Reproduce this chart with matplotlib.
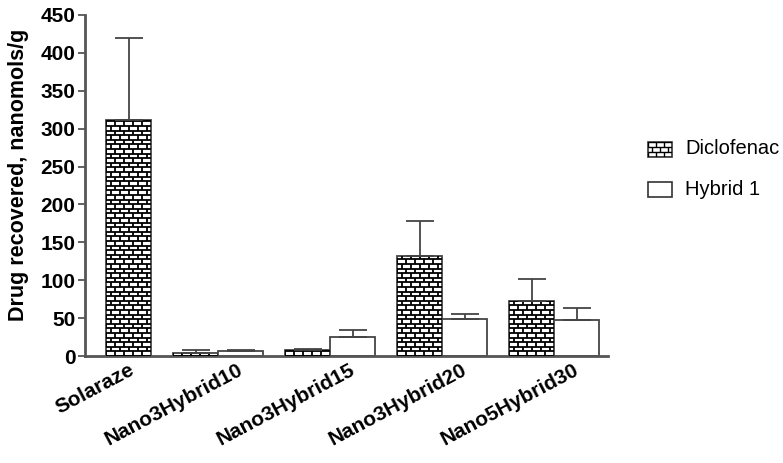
import matplotlib.pyplot as plt
import matplotlib.patches as mpatches
import matplotlib.transforms as mtransforms
import numpy as np
from matplotlib.collections import LineCollection

plt.rcParams['font.family'] = ['Liberation Sans', 'DejaVu Sans']

groups = ['Solaraze', 'Nano3Hybrid10', 'Nano3Hybrid15', 'Nano3Hybrid20', 'Nano5Hybrid30']
diclofenac = [312, 4, 8, 132, 72]
diclofenac_err = [108, 4, 1, 46, 29]
hybrid = [None, 7, 25, 49, 47]
hybrid_err = [None, 1, 9, 6, 17]

W, H = 783, 463
fig = plt.figure(figsize=(W / 100, H / 100), dpi=100)
ax = fig.add_axes([85 / W, (H - 356) / H, (608 - 85) / W, 341 / H])

width = 0.4
xmin, xmax = -0.19, 4.48
ymax = 450
ax.set_xlim(xmin, xmax)
ax.set_ylim(0, ymax)

# pixel -> data scales for the brick pattern
px_x = (xmax - xmin) / (608 - 85)
px_y = ymax / 341.0


def brick_bar(x0, h):
    bar = ax.bar(x0, h, width, align='edge', color='white',
                 edgecolor='#444444', linewidth=1.3, zorder=2)[0]
    row = 4.6 * px_y
    brick = 9.0 * px_x
    segs = []
    y = 0.0
    k = 0
    while y < h + row:
        segs.append([(x0, y), (x0 + width, y)])
        off = 0 if k % 2 == 0 else brick / 2
        xx = x0 + off
        while xx < x0 + width:
            segs.append([(xx, y), (xx, y + row)])
            xx += brick
        y += row
        k += 1
    lc = LineCollection(segs, colors='black', linewidths=1.3, zorder=3)
    ax.add_collection(lc)
    lc.set_clip_path(bar)
    return bar


def plain_bar(x0, h):
    return ax.bar(x0, h, width, align='edge', color='white',
                  edgecolor='#444444', linewidth=1.3, zorder=2)[0]


err_kw = dict(fmt='none', ecolor='#444444', elinewidth=1.3, capsize=10,
              capthick=1.3, zorder=4)

for i, g in enumerate(groups):
    if hybrid[i] is None:
        x0 = i + 0.2 - width / 2
        brick_bar(x0, diclofenac[i])
        ax.errorbar(x0 + width / 2, diclofenac[i], yerr=[[0], [diclofenac_err[i]]], **err_kw)
    else:
        x0 = i - width
        brick_bar(x0, diclofenac[i])
        ax.errorbar(x0 + width / 2, diclofenac[i], yerr=[[0], [diclofenac_err[i]]], **err_kw)
        plain_bar(i, hybrid[i])
        ax.errorbar(i + width / 2, hybrid[i], yerr=[[0], [hybrid_err[i]]], **err_kw)

centers = [0.2] + [i for i in range(1, len(groups))]
ax.set_xticks(centers)
ax.set_xticklabels(groups, rotation=28, ha='right', rotation_mode='anchor',
                   fontsize=15, fontweight='bold')
ax.tick_params(axis='x', length=0, pad=3)
for i, t in enumerate(ax.get_xticklabels()):
    dx = 0 if hybrid[i] is None else 19
    t.set_transform(t.get_transform() + mtransforms.ScaledTranslation(dx / 100, 0, fig.dpi_scale_trans))

ax.set_yticks(np.arange(0, 451, 50))
ax.tick_params(axis='y', labelsize=15, width=1.3, length=5, color='#555555', pad=2)
for t in ax.get_yticklabels():
    t.set_fontweight('bold')
ax.set_ylabel('Drug recovered, nanomols/g', fontsize=15.5, fontweight='bold')
ax.yaxis.set_label_coords(-0.108, 0.53)

for s in ['top', 'right']:
    ax.spines[s].set_visible(False)
for s in ['left', 'bottom']:
    ax.spines[s].set_linewidth(2)
    ax.spines[s].set_color('#555555')


def legend_patch(y, brick):
    axl = fig.add_axes([648 / W, (H - y - 15) / H, 24 / W, 15 / H])
    axl.set_xlim(0, 1)
    axl.set_ylim(0, 1)
    axl.axis('off')
    r = mpatches.Rectangle((0, 0), 1, 1, facecolor='white', edgecolor='#333333',
                           linewidth=1.2, transform=axl.transAxes, clip_on=False)
    axl.add_patch(r)
    if brick:
        segs = []
        rows = 3
        for k in range(rows + 1):
            y0 = k / rows
            segs.append([(0, y0), (1, y0)])
            if k < rows:
                off = 0 if k % 2 == 0 else 1 / 6
                xx = off
                while xx < 1:
                    segs.append([(xx, y0), (xx, y0 + 1 / rows)])
                    xx += 1 / 3
        lc = LineCollection(segs, colors='black', linewidths=1.0)
        axl.add_collection(lc)
        lc.set_clip_path(r)


legend_patch(142, True)
legend_patch(182, False)
fig.text(685 / W, 1 - 149 / H, 'Diclofenac', fontsize=14.5, va='center', ha='left')
fig.text(685 / W, 1 - 189 / H, 'Hybrid 1', fontsize=14.5, va='center', ha='left')

fig.savefig('out.png', dpi=100)
